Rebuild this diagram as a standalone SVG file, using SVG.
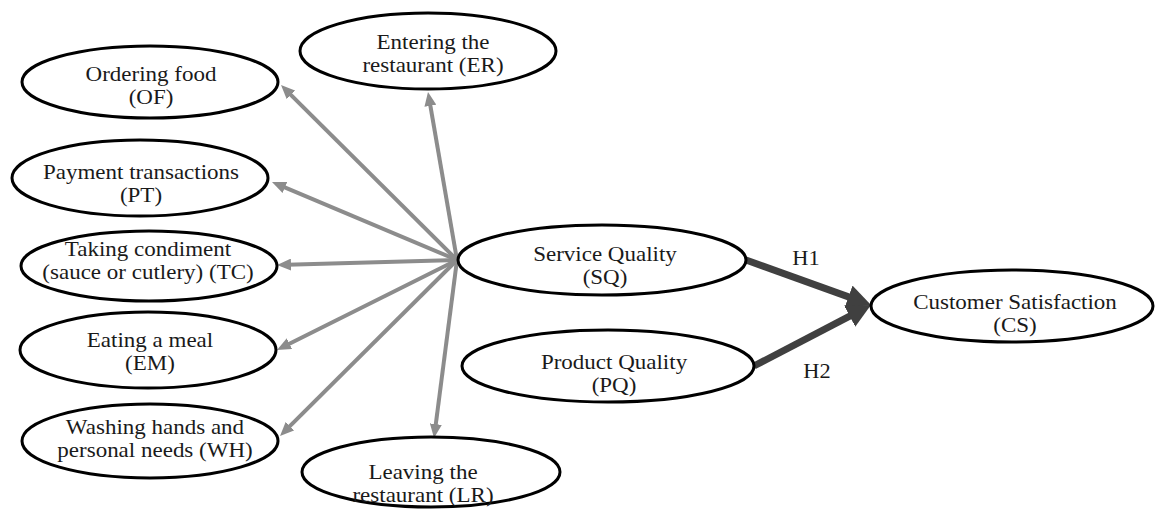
<svg xmlns="http://www.w3.org/2000/svg" width="1156" height="509" viewBox="0 0 1156 509">
<style>
.n ellipse{fill:#fff;stroke:#000;stroke-width:3}
text{font-family:"Liberation Serif","Times New Roman",serif;font-size:20px;fill:#1a1a1a;text-anchor:middle}
.g{stroke:#8c8c8c;stroke-width:4;fill:none}
.h{stroke:#404040;stroke-width:7;fill:none}
</style>
<defs>
<marker id="ga" markerUnits="userSpaceOnUse" markerWidth="14" markerHeight="12" refX="4" refY="6" orient="auto"><path d="M0,0 L14,6 L0,12 z" fill="#8c8c8c"/></marker>
<marker id="ha" markerUnits="userSpaceOnUse" markerWidth="24" markerHeight="24" refX="6" refY="12" orient="auto"><path d="M0,0 L24,12 L0,24 z" fill="#404040"/></marker>
</defs>
<rect width="1156" height="509" fill="#fff"/>
<g id="connectors">
<line class="g" x1="457" y1="260" x2="288.1" y2="92.1" marker-end="url(#ga)"/>
<line class="g" x1="457" y1="260" x2="429.7" y2="101.9" marker-end="url(#ga)"/>
<line class="g" x1="457" y1="260" x2="281.2" y2="185.9" marker-end="url(#ga)"/>
<line class="g" x1="457" y1="260" x2="287" y2="264.7" marker-end="url(#ga)"/>
<line class="g" x1="457" y1="260" x2="285.9" y2="345.5" marker-end="url(#ga)"/>
<line class="g" x1="457" y1="260" x2="287.1" y2="428.9" marker-end="url(#ga)"/>
<line class="g" x1="457" y1="260" x2="435.3" y2="428.1" marker-end="url(#ga)"/>
<line class="h" x1="746" y1="260" x2="854.1" y2="298.9" marker-end="url(#ha)"/>
<line class="h" x1="754" y1="366" x2="855" y2="313.3" marker-end="url(#ha)"/>
<text transform="translate(806 265) scale(1.12 1.1)">H1</text>
<text transform="translate(817 378) scale(1.12 1.1)">H2</text>
</g>
<g id="OF" class="n"><ellipse cx="150" cy="82" rx="128" ry="36"/><text transform="translate(151 81) scale(1.15 1)">Ordering food</text><text transform="translate(151 104) scale(1.15 1)">(OF)</text></g>
<g id="ER" class="n"><ellipse cx="428" cy="51" rx="128" ry="38"/><text transform="translate(433 49) scale(1.15 1)">Entering the</text><text transform="translate(433 72) scale(1.15 1)">restaurant (ER)</text></g>
<g id="PT" class="n"><ellipse cx="140" cy="178" rx="128" ry="38"/><text transform="translate(141 179) scale(1.15 1)">Payment transactions</text><text transform="translate(141 202) scale(1.15 1)">(PT)</text></g>
<g id="TC" class="n"><ellipse cx="149" cy="266" rx="128" ry="35"/><text transform="translate(148 256) scale(1.15 1)">Taking condiment</text><text transform="translate(148 279) scale(1.15 1)">(sauce or cutlery) (TC)</text></g>
<g id="EM" class="n"><ellipse cx="148" cy="350" rx="128" ry="38"/><text transform="translate(150 347) scale(1.15 1)">Eating a meal</text><text transform="translate(150 370) scale(1.15 1)">(EM)</text></g>
<g id="WH" class="n"><ellipse cx="150" cy="441" rx="128" ry="37"/><text transform="translate(155 434) scale(1.15 1)">Washing hands and</text><text transform="translate(155 457) scale(1.15 1)">personal needs (WH)</text></g>
<g id="LR" class="n"><ellipse cx="431" cy="472" rx="129" ry="35"/><text transform="translate(423 478.5) scale(1.15 1)">Leaving the</text><text transform="translate(423 501.5) scale(1.15 1)">restaurant (LR)</text></g>
<g id="SQ" class="n"><ellipse cx="602" cy="260" rx="144" ry="35"/><text transform="translate(605 261) scale(1.15 1)">Service Quality</text><text transform="translate(605 284) scale(1.15 1)">(SQ)</text></g>
<g id="PQ" class="n"><ellipse cx="608" cy="366" rx="146" ry="36"/><text transform="translate(614 369) scale(1.15 1)">Product Quality</text><text transform="translate(614 392) scale(1.15 1)">(PQ)</text></g>
<g id="CS" class="n"><ellipse cx="1012" cy="306" rx="141" ry="36"/><text transform="translate(1015 309) scale(1.15 1)">Customer Satisfaction</text><text transform="translate(1015 332) scale(1.15 1)">(CS)</text></g>
</svg>
